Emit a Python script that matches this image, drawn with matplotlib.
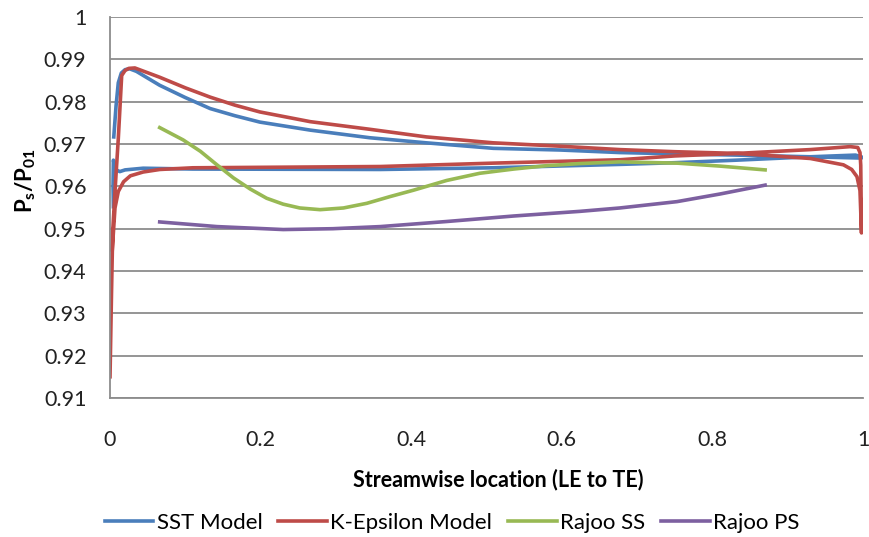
import matplotlib
matplotlib.use("Agg")
import matplotlib.pyplot as plt

# Static pressure ratio along the blade
sst_x = [0.005, 0.008, 0.011, 0.015, 0.020, 0.026, 0.035, 0.050, 0.066, 0.100,
         0.133, 0.166, 0.199, 0.266, 0.345, 0.420, 0.509, 0.598, 0.677, 0.750,
         0.832, 0.930, 0.998,
         0.998, 0.990, 0.930, 0.832, 0.750, 0.677, 0.509, 0.359, 0.110, 0.044,
         0.020, 0.013, 0.007, 0.0045, 0.0040, 0.0045]
sst_y = [0.9717, 0.9790, 0.9845, 0.9868, 0.9876, 0.9878, 0.9872, 0.9856, 0.9839, 0.9810,
         0.9784, 0.9767, 0.9752, 0.9733, 0.9715, 0.9703, 0.9690, 0.9686, 0.9680, 0.9677,
         0.9674, 0.9670, 0.9667,
         0.9670, 0.9674, 0.9670, 0.9662, 0.9656, 0.9652, 0.9644, 0.9640, 0.9641, 0.9643,
         0.9639, 0.9635, 0.9640, 0.9662, 0.9600, 0.9552]

ke_x = [0.000, 0.001, 0.002, 0.0036, 0.007, 0.011, 0.0155, 0.020, 0.025, 0.033,
        0.045, 0.066, 0.100, 0.133, 0.166, 0.199, 0.266, 0.345, 0.420, 0.509,
        0.598, 0.677, 0.750, 0.833, 0.930, 0.974, 0.985, 0.992, 0.996, 0.998,
        0.997, 0.996, 0.993, 0.983, 0.930, 0.833, 0.750, 0.677, 0.509, 0.359,
        0.110, 0.066, 0.044, 0.027, 0.018, 0.011, 0.0066, 0.003]
ke_y = [0.9150, 0.9250, 0.9350, 0.9494, 0.9600, 0.9713, 0.9862, 0.9874, 0.9879, 0.9880,
        0.9872, 0.9858, 0.9833, 0.9811, 0.9792, 0.9776, 0.9753, 0.9735, 0.9717, 0.9703,
        0.9695, 0.9687, 0.9682, 0.9678, 0.9666, 0.9651, 0.9640, 0.9623, 0.9590, 0.9490,
        0.9650, 0.9680, 0.9692, 0.9694, 0.9687, 0.9678, 0.9672, 0.9663, 0.9655, 0.9647,
        0.9644, 0.9640, 0.9634, 0.9625, 0.9611, 0.9588, 0.9549, 0.9450]

rajoo_ss_x = [0.066, 0.097, 0.120, 0.142, 0.164, 0.186, 0.208, 0.230, 0.252, 0.279,
              0.310, 0.341, 0.372, 0.403, 0.447, 0.491, 0.536, 0.580, 0.624, 0.677,
              0.753, 0.810, 0.870]
rajoo_ss_y = [0.9739, 0.9710, 0.9683, 0.9651, 0.9620, 0.9594, 0.9572, 0.9558, 0.9549, 0.9545,
              0.9549, 0.9560, 0.9576, 0.9591, 0.9614, 0.9631, 0.9641, 0.9649, 0.9654, 0.9658,
              0.9655, 0.9648, 0.9639]

rajoo_ps_x = [0.066, 0.142, 0.230, 0.296, 0.359, 0.447, 0.536, 0.624, 0.677, 0.753,
              0.810, 0.870]
rajoo_ps_y = [0.9516, 0.9505, 0.9498, 0.9500, 0.9505, 0.9517, 0.9530, 0.9541, 0.9549, 0.9564,
              0.9582, 0.9603]

plt.rcParams["font.family"] = ["Lato", "DejaVu Sans"]

fig = plt.figure(figsize=(8.69, 5.37), dpi=100)
ax = fig.add_axes([0.1266, 0.259, 0.8665, 0.709])

lw = 2.6
ax.plot(sst_x, sst_y, color="#4A7EBB", lw=lw, label="SST Model", solid_joinstyle="round")
ax.plot(ke_x, ke_y, color="#BE4B48", lw=lw, label="K-Epsilon Model", solid_joinstyle="round")
ax.plot(rajoo_ss_x, rajoo_ss_y, color="#98B954", lw=lw, label="Rajoo SS", solid_joinstyle="round")
ax.plot(rajoo_ps_x, rajoo_ps_y, color="#7D60A0", lw=lw, label="Rajoo PS", solid_joinstyle="round")

ax.set_xlim(0, 1)
ax.set_ylim(0.91, 1.0)
ax.set_xticks([0, 0.2, 0.4, 0.6, 0.8, 1])
ax.set_xticklabels(["0", "0.2", "0.4", "0.6", "0.8", "1"])
ax.set_yticks([0.91 + 0.01 * i for i in range(10)])
ax.set_yticklabels(["0.91", "0.92", "0.93", "0.94", "0.95", "0.96", "0.97",
                    "0.98", "0.99", "1"])
ax.tick_params(length=0, labelsize=15.5, colors="#222222")
ax.tick_params(axis="x", pad=23)
ax.tick_params(axis="y", pad=17)
ax.grid(axis="y", color="#8c8c8c", lw=1.3)
ax.set_axisbelow(True)
for side in ("top", "right"):
    ax.spines[side].set_visible(False)
for side in ("left", "bottom"):
    ax.spines[side].set_color("#8c8c8c")
    ax.spines[side].set_linewidth(1.3)

ax.set_xlabel("Streamwise location (LE to TE)", fontsize=15.5, fontweight="bold")
ax.xaxis.set_label_coords(0.515, -0.187)
ax.set_ylabel(r"P$_\mathregular{s}$/P$_\mathregular{01}$", fontsize=16, fontweight="bold")
ax.yaxis.set_label_coords(-0.096, 0.572)

fig.legend(loc="center", bbox_to_anchor=(0.52, 0.027), ncol=4, frameon=False,
           fontsize=16, handlelength=2.2, handletextpad=0.15, columnspacing=0.7)

fig.savefig("out.png", dpi=100)
